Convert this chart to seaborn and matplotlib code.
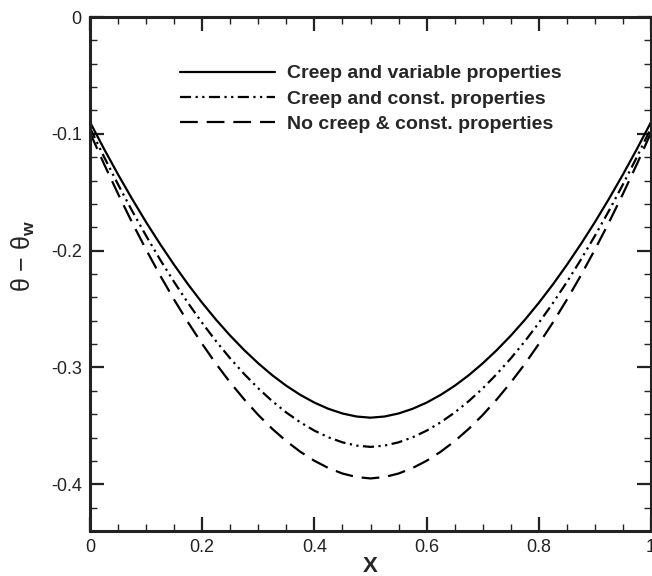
import numpy as np
import pandas as pd
import matplotlib
matplotlib.use("Agg")
import matplotlib.pyplot as plt
from matplotlib.ticker import MultipleLocator, FuncFormatter
import seaborn as sns

sns.set_style("ticks")
plt.rcParams["font.family"] = ["Liberation Sans", "DejaVu Sans"]
plt.rcParams["axes.unicode_minus"] = False
plt.rcParams["mathtext.fontset"] = "custom"
plt.rcParams["mathtext.rm"] = "Liberation Sans"
plt.rcParams["mathtext.bf"] = "Liberation Sans:bold"

x = [0.0, 0.025, 0.05, 0.075, 0.1, 0.125, 0.15, 0.175, 0.2, 0.225, 0.25,
     0.275, 0.3, 0.325, 0.35, 0.375, 0.4, 0.425, 0.45, 0.475, 0.5,
     0.525, 0.55, 0.575, 0.6, 0.625, 0.65, 0.675, 0.7, 0.725, 0.75,
     0.775, 0.8, 0.825, 0.85, 0.875, 0.9, 0.925, 0.95, 0.975, 1.0]
creep_variable = [-0.0900, -0.1129, -0.1348, -0.1557, -0.1756, -0.1944, -0.2122,
                  -0.2290, -0.2447, -0.2593, -0.2728, -0.2852, -0.2965, -0.3067,
                  -0.3157, -0.3235, -0.3301, -0.3354, -0.3394, -0.3420, -0.3430,
                  -0.3420, -0.3394, -0.3354, -0.3301, -0.3235, -0.3157, -0.3067,
                  -0.2965, -0.2852, -0.2728, -0.2593, -0.2447, -0.2290, -0.2122,
                  -0.1944, -0.1756, -0.1557, -0.1348, -0.1129, -0.0900]
creep_const = [-0.0950, -0.1197, -0.1433, -0.1659, -0.1873, -0.2077, -0.2269,
               -0.2450, -0.2619, -0.2777, -0.2923, -0.3057, -0.3179, -0.3289,
               -0.3386, -0.3470, -0.3541, -0.3598, -0.3641, -0.3669, -0.3680,
               -0.3669, -0.3641, -0.3598, -0.3541, -0.3470, -0.3386, -0.3289,
               -0.3179, -0.3057, -0.2923, -0.2777, -0.2619, -0.2450, -0.2269,
               -0.2077, -0.1873, -0.1659, -0.1433, -0.1197, -0.0950]
nocreep_const = [-0.0990, -0.1258, -0.1514, -0.1759, -0.1991, -0.2212, -0.2420,
                 -0.2616, -0.2799, -0.2971, -0.3129, -0.3274, -0.3407, -0.3526,
                 -0.3631, -0.3722, -0.3799, -0.3861, -0.3908, -0.3938, -0.3950,
                 -0.3938, -0.3908, -0.3861, -0.3799, -0.3722, -0.3631, -0.3526,
                 -0.3407, -0.3274, -0.3129, -0.2971, -0.2799, -0.2616, -0.2420,
                 -0.2212, -0.1991, -0.1759, -0.1514, -0.1258, -0.0990]
labels = ["Creep and variable properties",
          "Creep and const. properties",
          "No creep & const. properties"]

df = pd.concat([
    pd.DataFrame({"X": x, "theta": creep_variable, "case": labels[0]}),
    pd.DataFrame({"X": x, "theta": creep_const, "case": labels[1]}),
    pd.DataFrame({"X": x, "theta": nocreep_const, "case": labels[2]}),
])

fig = plt.figure(figsize=(6.52, 5.76), dpi=100)
ax = fig.add_axes([90 / 652, 45 / 576, 561 / 652, 514 / 576])

dashes = {labels[0]: "", labels[1]: (5, 2, 1, 2, 1, 2), labels[2]: (8, 4)}
sns.lineplot(data=df, x="X", y="theta", style="case", style_order=labels,
             dashes=dashes, color="black", linewidth=1.6, ax=ax,
             estimator=None, sort=False)

ax.set_xlim(0, 1)
ax.set_ylim(-0.44, 0)
ax.xaxis.set_major_locator(MultipleLocator(0.2))
ax.xaxis.set_minor_locator(MultipleLocator(0.05))
ax.yaxis.set_major_locator(MultipleLocator(0.1))
ax.yaxis.set_minor_locator(MultipleLocator(0.02))
fmt = FuncFormatter(lambda v, p: ("%g" % round(v, 3)) if abs(v) > 1e-9 else "0")
ax.xaxis.set_major_formatter(fmt)
ax.yaxis.set_major_formatter(fmt)
ax.tick_params(which="both", direction="in", top=True, right=True,
               labelsize=13, colors="#222222", labelcolor="#222222")
ax.tick_params(which="major", length=10, width=1.6, pad=6)
ax.tick_params(which="minor", length=5, width=1.0)
for s in ax.spines.values():
    s.set_linewidth(2.2)
    s.set_color("#222222")

ax.set_xlabel("X", fontsize=16, fontweight="bold", labelpad=0)
ax.set_ylabel("θ − θ$_{\\mathbf{w}}$", fontsize=18, labelpad=8)
ax.yaxis.set_label_coords(-0.095, 0.535)

leg = ax.legend(loc="upper left", bbox_to_anchor=(0.160, 0.907), frameon=False,
                borderpad=0, borderaxespad=0,
                handlelength=4.9, handletextpad=0.6, labelspacing=0.4,
                prop={"weight": "bold", "size": 14})
for line in leg.get_lines():
    line.set_linewidth(1.6)

fig.savefig("out.png", dpi=100)
